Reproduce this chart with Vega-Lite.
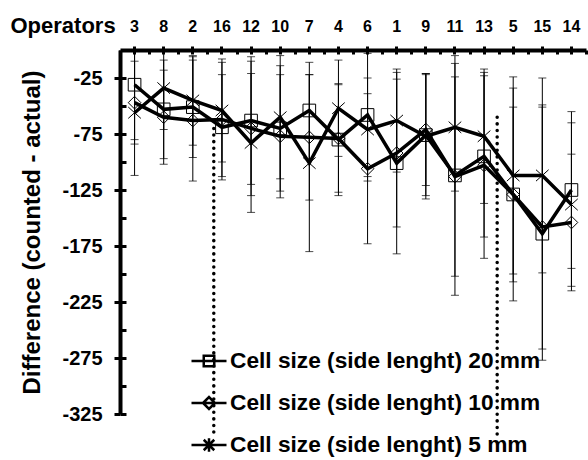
{
  "$schema": "https://vega.github.io/schema/vega-lite/v6.json",
  "width": 466,
  "height": 364,
  "autosize": {"type": "none"},
  "padding": {"left": 120, "top": 50, "right": 2, "bottom": 46},
  "background": "white",
  "config": {
    "view": {"stroke": null},
    "font": "Liberation Sans",
    "axis": {"labelFont": "Liberation Sans", "titleFont": "Liberation Sans", "grid": false}
  },
  "datasets": {
    "main": [
      {"op": "3", "series": "Cell size (side lenght) 20 mm", "mean": -31, "lo": -80, "hi": 18},
      {"op": "8", "series": "Cell size (side lenght) 20 mm", "mean": -53, "lo": -97, "hi": -9},
      {"op": "2", "series": "Cell size (side lenght) 20 mm", "mean": -51, "lo": -96, "hi": -6},
      {"op": "16", "series": "Cell size (side lenght) 20 mm", "mean": -69, "lo": -116, "hi": -22},
      {"op": "12", "series": "Cell size (side lenght) 20 mm", "mean": -63, "lo": -120, "hi": -6},
      {"op": "10", "series": "Cell size (side lenght) 20 mm", "mean": -70, "lo": -126, "hi": -14},
      {"op": "7", "series": "Cell size (side lenght) 20 mm", "mean": -54, "lo": -97, "hi": -11},
      {"op": "4", "series": "Cell size (side lenght) 20 mm", "mean": -80, "lo": -130, "hi": -30},
      {"op": "6", "series": "Cell size (side lenght) 20 mm", "mean": -58, "lo": -113, "hi": -3},
      {"op": "1", "series": "Cell size (side lenght) 20 mm", "mean": -101, "lo": -182, "hi": -20},
      {"op": "9", "series": "Cell size (side lenght) 20 mm", "mean": -76, "lo": -130, "hi": -22},
      {"op": "11", "series": "Cell size (side lenght) 20 mm", "mean": -112, "lo": -219, "hi": -5},
      {"op": "13", "series": "Cell size (side lenght) 20 mm", "mean": -95, "lo": -167, "hi": -23},
      {"op": "5", "series": "Cell size (side lenght) 20 mm", "mean": -129, "lo": -224, "hi": -34},
      {"op": "15", "series": "Cell size (side lenght) 20 mm", "mean": -164, "lo": -277, "hi": -51},
      {"op": "14", "series": "Cell size (side lenght) 20 mm", "mean": -125, "lo": -195, "hi": -55},
      {"op": "3", "series": "Cell size (side lenght) 10 mm", "mean": -47, "lo": -84, "hi": -10},
      {"op": "8", "series": "Cell size (side lenght) 10 mm", "mean": -60, "lo": -102, "hi": -18},
      {"op": "2", "series": "Cell size (side lenght) 10 mm", "mean": -63, "lo": -117, "hi": -9},
      {"op": "16", "series": "Cell size (side lenght) 10 mm", "mean": -62, "lo": -113, "hi": -11},
      {"op": "12", "series": "Cell size (side lenght) 10 mm", "mean": -70, "lo": -130, "hi": -10},
      {"op": "10", "series": "Cell size (side lenght) 10 mm", "mean": -77, "lo": -132, "hi": -22},
      {"op": "7", "series": "Cell size (side lenght) 10 mm", "mean": -78, "lo": -134, "hi": -22},
      {"op": "4", "series": "Cell size (side lenght) 10 mm", "mean": -79, "lo": -127, "hi": -31},
      {"op": "6", "series": "Cell size (side lenght) 10 mm", "mean": -106, "lo": -173, "hi": -39},
      {"op": "1", "series": "Cell size (side lenght) 10 mm", "mean": -92, "lo": -158, "hi": -26},
      {"op": "9", "series": "Cell size (side lenght) 10 mm", "mean": -71, "lo": -121, "hi": -21},
      {"op": "11", "series": "Cell size (side lenght) 10 mm", "mean": -113, "lo": -202, "hi": -24},
      {"op": "13", "series": "Cell size (side lenght) 10 mm", "mean": -103, "lo": -186, "hi": -20},
      {"op": "5", "series": "Cell size (side lenght) 10 mm", "mean": -129, "lo": -207, "hi": -51},
      {"op": "15", "series": "Cell size (side lenght) 10 mm", "mean": -158, "lo": -267, "hi": -49},
      {"op": "14", "series": "Cell size (side lenght) 10 mm", "mean": -154, "lo": -215, "hi": -93},
      {"op": "3", "series": "Cell size (side lenght) 5 mm", "mean": -56, "lo": -112, "hi": 0},
      {"op": "8", "series": "Cell size (side lenght) 5 mm", "mean": -34, "lo": -71, "hi": 3},
      {"op": "2", "series": "Cell size (side lenght) 5 mm", "mean": -45, "lo": -85, "hi": -5},
      {"op": "16", "series": "Cell size (side lenght) 5 mm", "mean": -54, "lo": -100, "hi": -8},
      {"op": "12", "series": "Cell size (side lenght) 5 mm", "mean": -83, "lo": -145, "hi": -21},
      {"op": "10", "series": "Cell size (side lenght) 5 mm", "mean": -60, "lo": -115, "hi": -5},
      {"op": "7", "series": "Cell size (side lenght) 5 mm", "mean": -101, "lo": -180, "hi": -22},
      {"op": "4", "series": "Cell size (side lenght) 5 mm", "mean": -52, "lo": -95, "hi": -9},
      {"op": "6", "series": "Cell size (side lenght) 5 mm", "mean": -71, "lo": -117, "hi": -25},
      {"op": "1", "series": "Cell size (side lenght) 5 mm", "mean": -63, "lo": -109, "hi": -17},
      {"op": "9", "series": "Cell size (side lenght) 5 mm", "mean": -77, "lo": -133, "hi": -21},
      {"op": "11", "series": "Cell size (side lenght) 5 mm", "mean": -69, "lo": -126, "hi": -12},
      {"op": "13", "series": "Cell size (side lenght) 5 mm", "mean": -77, "lo": -137, "hi": -17},
      {"op": "5", "series": "Cell size (side lenght) 5 mm", "mean": -112, "lo": -200, "hi": -24},
      {"op": "15", "series": "Cell size (side lenght) 5 mm", "mean": -112, "lo": -199, "hi": -25},
      {"op": "14", "series": "Cell size (side lenght) 5 mm", "mean": -138, "lo": -211, "hi": -65}
    ]
  },
  "layer": [
    {
      "data": {"name": "main"},
      "mark": {"type": "rule", "color": "black", "strokeWidth": 1, "clip": true},
      "encoding": {
        "x": {"field": "op", "type": "nominal", "sort": null,
          "scale": {"type": "band", "domain": ["3","8","2","16","12","10","7","4","6","1","9","11","13","5","15","14"], "paddingInner": 0, "paddingOuter": 0},
          "axis": {"orient": "top", "labels": false, "domain": false, "title": null, "tickSize": -4, "tickWidth": 3, "tickColor": "black"}},
        "y": {"field": "hi", "type": "quantitative", "scale": {"domain": [-325, 0], "nice": false, "zero": false}, "axis": null},
        "y2": {"field": "lo"}
      }
    },
    {
      "data": {"name": "main"},
      "mark": {"type": "tick", "color": "black", "size": 8, "thickness": 1, "clip": true},
      "encoding": {
        "x": {"field": "op", "type": "nominal", "sort": null, "axis": null},
        "y": {"field": "hi", "type": "quantitative", "axis": null}
      }
    },
    {
      "data": {"name": "main"},
      "mark": {"type": "tick", "color": "black", "size": 8, "thickness": 1, "clip": true},
      "encoding": {
        "x": {"field": "op", "type": "nominal", "sort": null, "axis": null},
        "y": {"field": "lo", "type": "quantitative", "axis": null}
      }
    },
    {
      "data": {"name": "main"},
      "mark": {"type": "line", "color": "black", "strokeWidth": 3.5},
      "encoding": {
        "x": {"field": "op", "type": "nominal", "sort": null,
          "axis": {"orient": "top", "title": "Operators", "titleX": -110, "titleY": -18, "titleAlign": "left", "titleBaseline": "alphabetic", "titleFontSize": 22, "titleFontWeight": "bold", "titleColor": "black",
            "labelFontSize": 16, "labelFontWeight": "bold", "labelColor": "black", "labelAngle": 0, "labelPadding": 12,
            "tickSize": 4, "tickWidth": 3, "tickColor": "black", "domainWidth": 4, "domainColor": "black"}},
        "y": {"field": "mean", "type": "quantitative",
          "axis": {"orient": "left", "title": "Difference (counted - actual)", "values": [-25, -75, -125, -175, -225, -275, -325],
            "labelExpr": "'-' + abs(datum.value)",
            "labelFontSize": 20, "labelFontWeight": "bold", "labelColor": "black", "labelPadding": 12,
            "tickSize": 6, "tickWidth": 3, "tickColor": "black", "domainWidth": 4, "domainColor": "black",
            "titleFontSize": 24, "titleFontWeight": "bold", "titleColor": "black", "titlePadding": 17}},
        "detail": {"field": "series", "type": "nominal"}
      }
    },
    {
      "data": {"name": "main"},
      "mark": {"type": "point", "color": "black", "filled": false, "strokeWidth": 1, "size": 160, "opacity": 1},
      "encoding": {
        "x": {"field": "op", "type": "nominal", "sort": null,
          "axis": {"orient": "top", "tickBand": "extent", "labels": false, "domain": false, "title": null, "tickSize": -4, "tickWidth": 3, "tickColor": "black"}},
        "y": {"field": "mean", "type": "quantitative",
          "axis": {"orient": "left", "values": [-25, -50, -75, -100, -125, -150, -175, -200, -225, -250, -275, -300, -325], "labels": false, "domain": false, "title": null, "tickSize": -6, "tickWidth": 3, "tickColor": "black"}},
        "shape": {"field": "series", "type": "nominal",
          "scale": {"domain": ["Cell size (side lenght) 20 mm", "Cell size (side lenght) 10 mm", "Cell size (side lenght) 5 mm"], "range": ["square", "diamond", "M-1,-0.9L1,0.9M-1,0.9L1,-0.9"]},
          "legend": null}
      }
    },
    {
      "data": {"name": "main"},
      "transform": [{"filter": "false"}],
      "mark": {"type": "point", "color": "black", "filled": false, "strokeWidth": 2, "opacity": 1},
      "encoding": {
        "x": {"field": "op", "type": "nominal", "sort": null, "axis": null},
        "y": {"field": "mean", "type": "quantitative", "axis": null},
        "shape": {"field": "series", "type": "nominal",
          "scale": {"domain": ["Cell size (side lenght) 20 mm", "Cell size (side lenght) 10 mm", "Cell size (side lenght) 5 mm"],
            "range": ["M-1,0H1M-0.3,-0.3H0.3V0.3H-0.3Z", "M-1,0H1M-0.34,0L0,-0.34L0.34,0L0,0.34Z", "M-1,0H1M-0.3,-0.3L0.3,0.3M-0.3,0.3L0.3,-0.3M0,-0.38V0.38"]},
          "legend": {"orient": "none", "legendX": 70, "legendY": 292, "title": null, "padding": 0,
            "labelFontSize": 22.7, "labelFontWeight": "bold", "labelColor": "black", "labelFont": "Liberation Sans", "labelOffset": 2, "labelLimit": 0,
            "symbolSize": 1225, "symbolStrokeWidth": 2.5, "symbolStrokeColor": "black", "symbolFillColor": "transparent", "symbolOpacity": 1, "rowPadding": 11}}
      }
    },
    {
      "data": {"values": [{"op": "16", "top": -70, "bottom": -344}]},
      "mark": {"type": "rule", "color": "black", "strokeWidth": 3.5, "strokeDash": [0.1, 6.5], "strokeCap": "round"},
      "encoding": {
        "x": {"field": "op", "type": "nominal", "bandPosition": 0.22, "axis": null},
        "y": {"field": "top", "type": "quantitative", "axis": null},
        "y2": {"field": "bottom"}
      }
    },
    {
      "data": {"values": [{"op": "13", "top": -60, "bottom": -344}]},
      "mark": {"type": "rule", "color": "black", "strokeWidth": 3.5, "strokeDash": [0.1, 6.5], "strokeCap": "round"},
      "encoding": {
        "x": {"field": "op", "type": "nominal", "bandPosition": 0.95, "axis": null},
        "y": {"field": "top", "type": "quantitative", "axis": null},
        "y2": {"field": "bottom"}
      }
    }
  ],
  "resolve": {"axis": {"x": "independent", "y": "independent"}, "scale": {"shape": "independent"}}
}
